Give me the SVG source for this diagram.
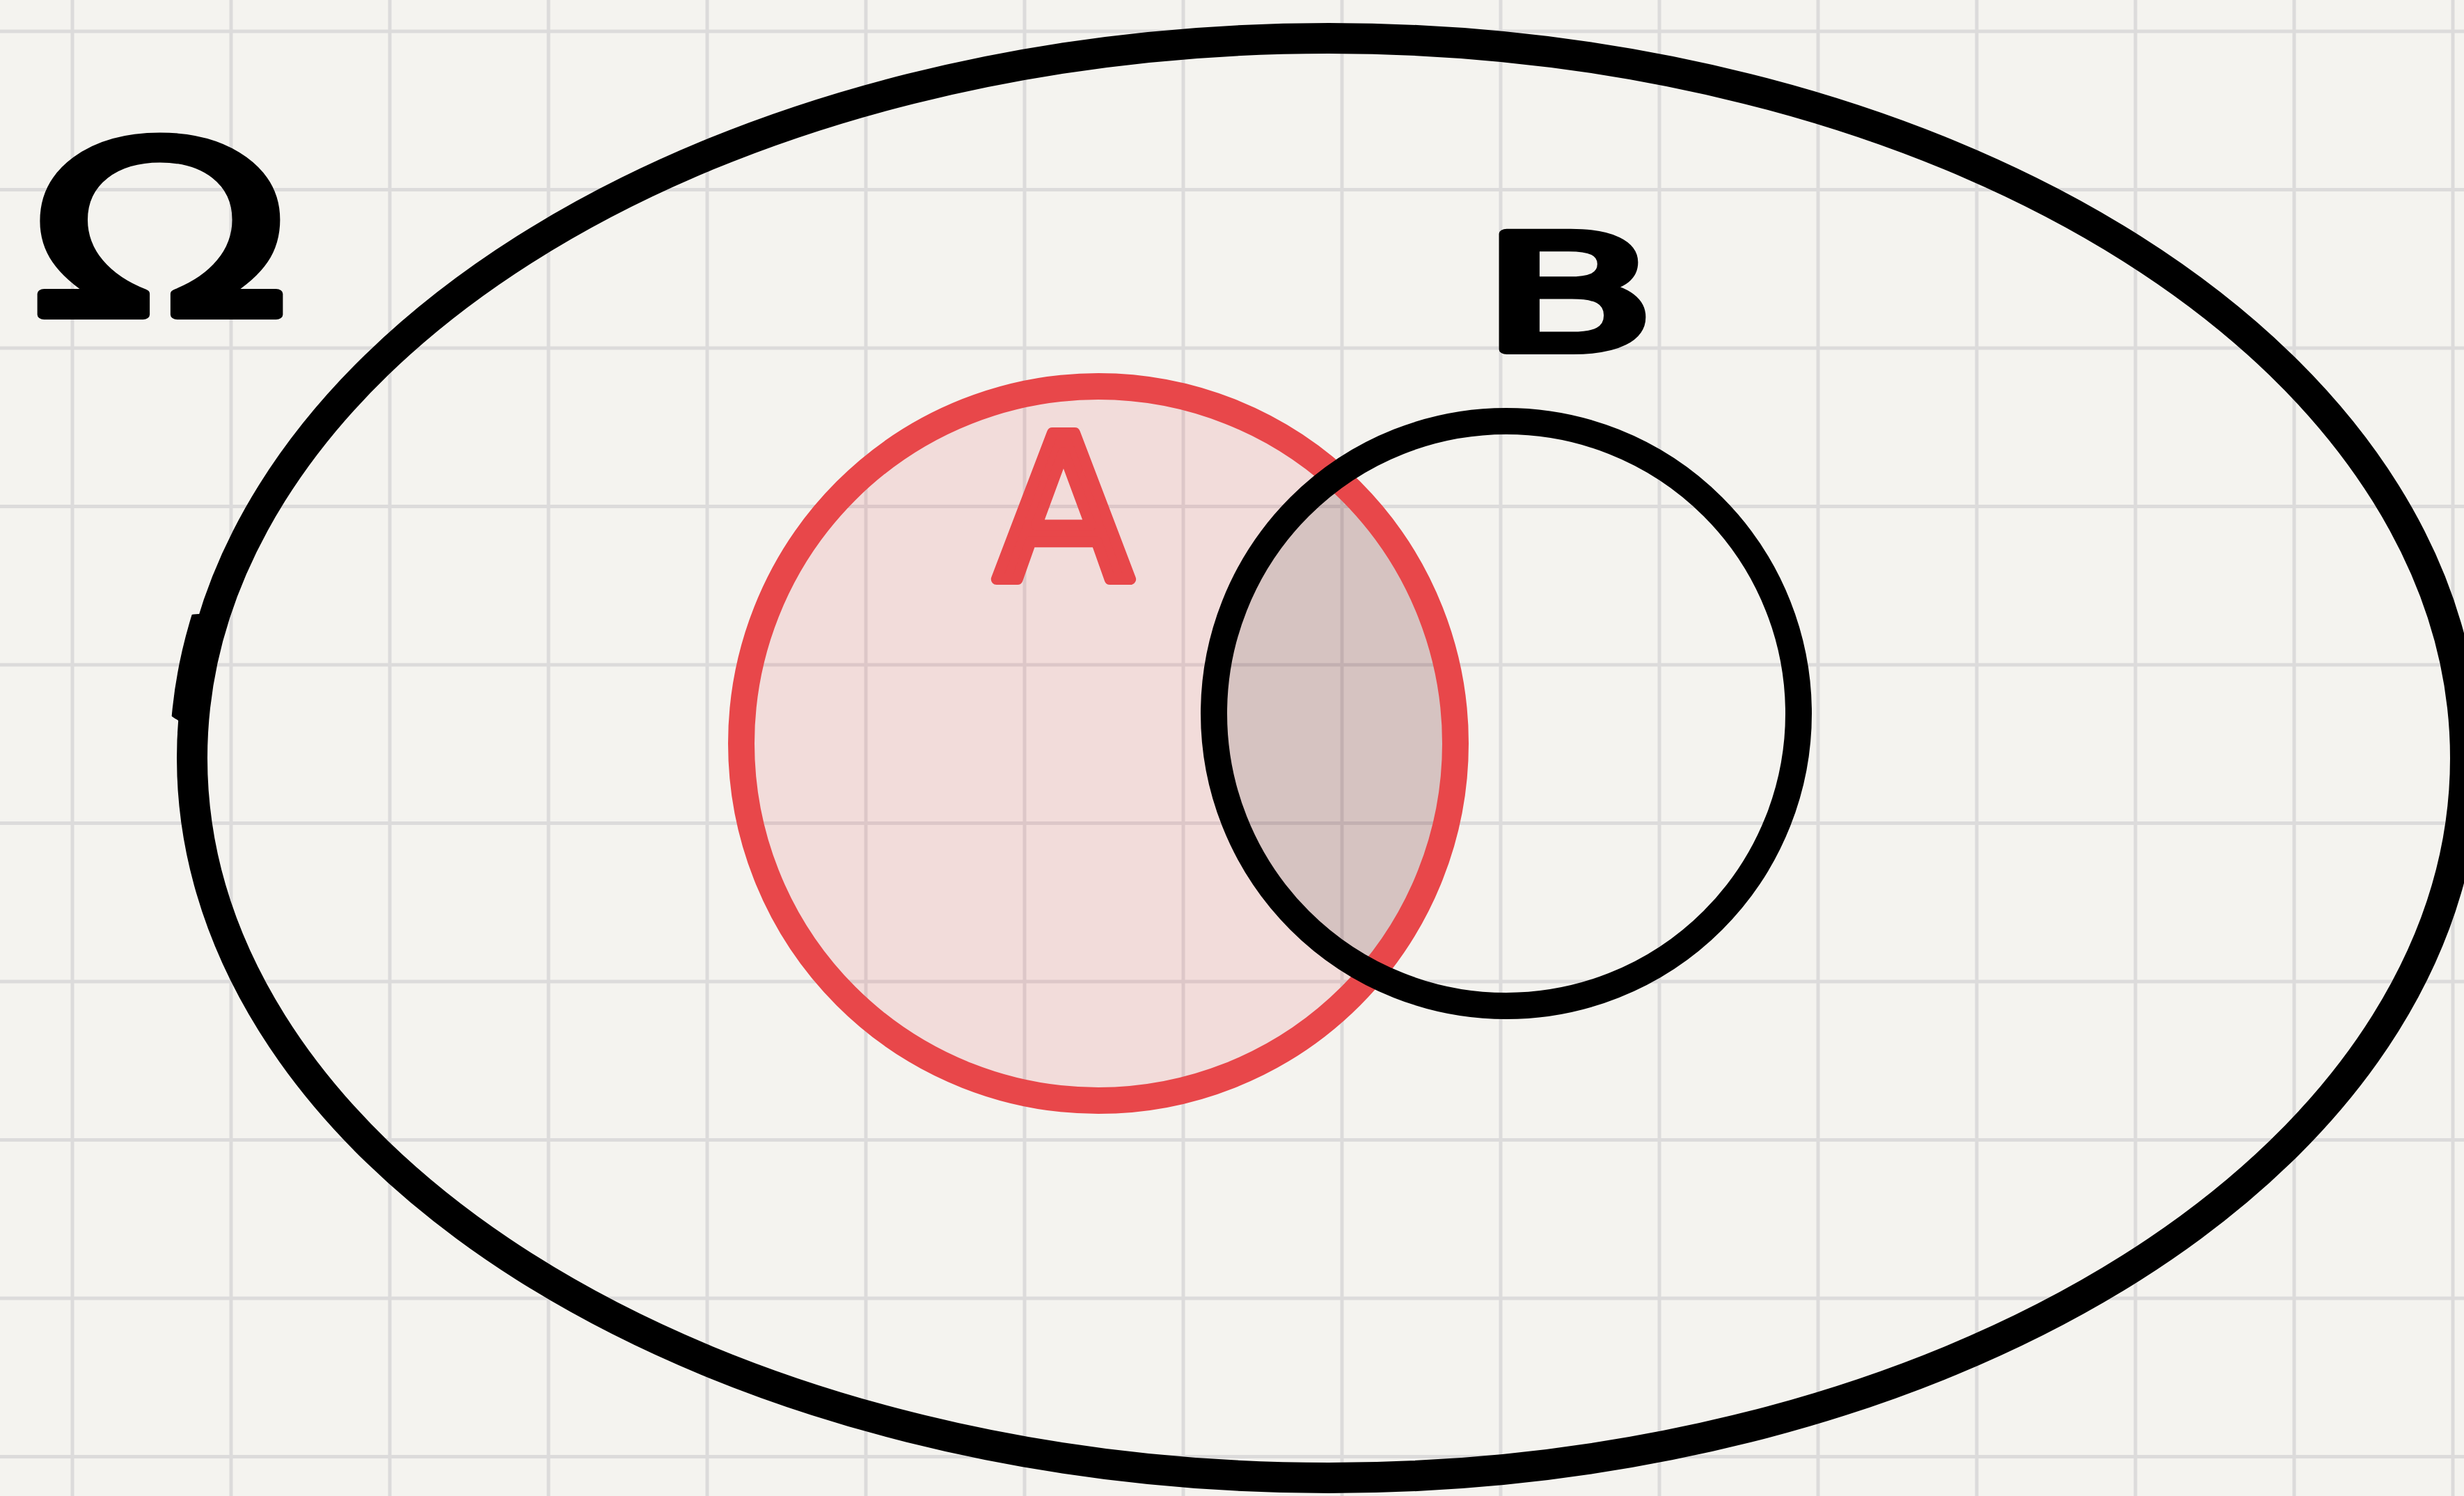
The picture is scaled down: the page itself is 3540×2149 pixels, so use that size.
<svg xmlns="http://www.w3.org/2000/svg" width="3540" height="2149" viewBox="0 0 3540 2149">
  <style>
    .grid line { stroke: #dcdbdb; stroke-width: 5px; }
    .pen { fill: none; stroke: #000000; }
    .red { fill: none; stroke: #e8474a; }
    .label { font-family: "DejaVu Sans", "Liberation Sans", sans-serif; font-weight: normal; text-anchor: middle; stroke-linejoin: round; }
  </style>
  <defs>
    <clipPath id="clipB">
      <circle cx="2164" cy="1025" r="420"/>
    </clipPath>
    <clipPath id="clipBump">
      <ellipse cx="285" cy="962" rx="70" ry="80"/>
    </clipPath>
  </defs>
  <rect x="0" y="0" width="3540" height="2149" fill="#f4f3ef"/>
  <g class="grid">
    <line x1="104" y1="0" x2="104" y2="2149"/>
    <line x1="332" y1="0" x2="332" y2="2149"/>
    <line x1="560" y1="0" x2="560" y2="2149"/>
    <line x1="788" y1="0" x2="788" y2="2149"/>
    <line x1="1016" y1="0" x2="1016" y2="2149"/>
    <line x1="1244" y1="0" x2="1244" y2="2149"/>
    <line x1="1472" y1="0" x2="1472" y2="2149"/>
    <line x1="1700" y1="0" x2="1700" y2="2149"/>
    <line x1="1928" y1="0" x2="1928" y2="2149"/>
    <line x1="2156" y1="0" x2="2156" y2="2149"/>
    <line x1="2384" y1="0" x2="2384" y2="2149"/>
    <line x1="2612" y1="0" x2="2612" y2="2149"/>
    <line x1="2840" y1="0" x2="2840" y2="2149"/>
    <line x1="3068" y1="0" x2="3068" y2="2149"/>
    <line x1="3296" y1="0" x2="3296" y2="2149"/>
    <line x1="3524" y1="0" x2="3524" y2="2149"/>
    <line x1="0" y1="45" x2="3540" y2="45"/>
    <line x1="0" y1="272.5" x2="3540" y2="272.5"/>
    <line x1="0" y1="500" x2="3540" y2="500"/>
    <line x1="0" y1="727.5" x2="3540" y2="727.5"/>
    <line x1="0" y1="955" x2="3540" y2="955"/>
    <line x1="0" y1="1182.5" x2="3540" y2="1182.5"/>
    <line x1="0" y1="1410" x2="3540" y2="1410"/>
    <line x1="0" y1="1637.5" x2="3540" y2="1637.5"/>
    <line x1="0" y1="1865" x2="3540" y2="1865"/>
    <line x1="0" y1="2092.5" x2="3540" y2="2092.5"/>
  </g>
  <g id="omega">
    <ellipse class="pen" cx="1909" cy="1089" rx="1633" ry="1034" stroke-width="44"/>
    <ellipse class="pen" cx="1899" cy="1089" rx="1633" ry="1034" stroke-width="44" clip-path="url(#clipBump)"/>
    <text class="label" x="230" y="452" font-size="345" textLength="370" lengthAdjust="spacingAndGlyphs" fill="#000000" stroke="#000000" stroke-width="14">Ω</text>
  </g>
  <g id="set-a">
    <circle cx="1578" cy="1068" r="513" fill="#e8474a" fill-opacity="0.13"/>
    <circle cx="1578" cy="1068" r="513" fill="#000000" fill-opacity="0.115" clip-path="url(#clipB)"/>
    <circle class="red" cx="1578" cy="1068" r="513" stroke-width="38"/>
    <text class="label" x="1528" y="832" font-size="288" fill="#e8474a" stroke="#e8474a" stroke-width="16">A</text>
  </g>
  <g id="set-b">
    <circle class="pen" cx="2164" cy="1025" r="420" stroke-width="38"/>
    <text class="label" x="2254" y="502" font-size="228" textLength="250" lengthAdjust="spacingAndGlyphs" fill="#000000" stroke="#000000" stroke-width="14">B</text>
  </g>
  <g id="connectors"/>
</svg>
